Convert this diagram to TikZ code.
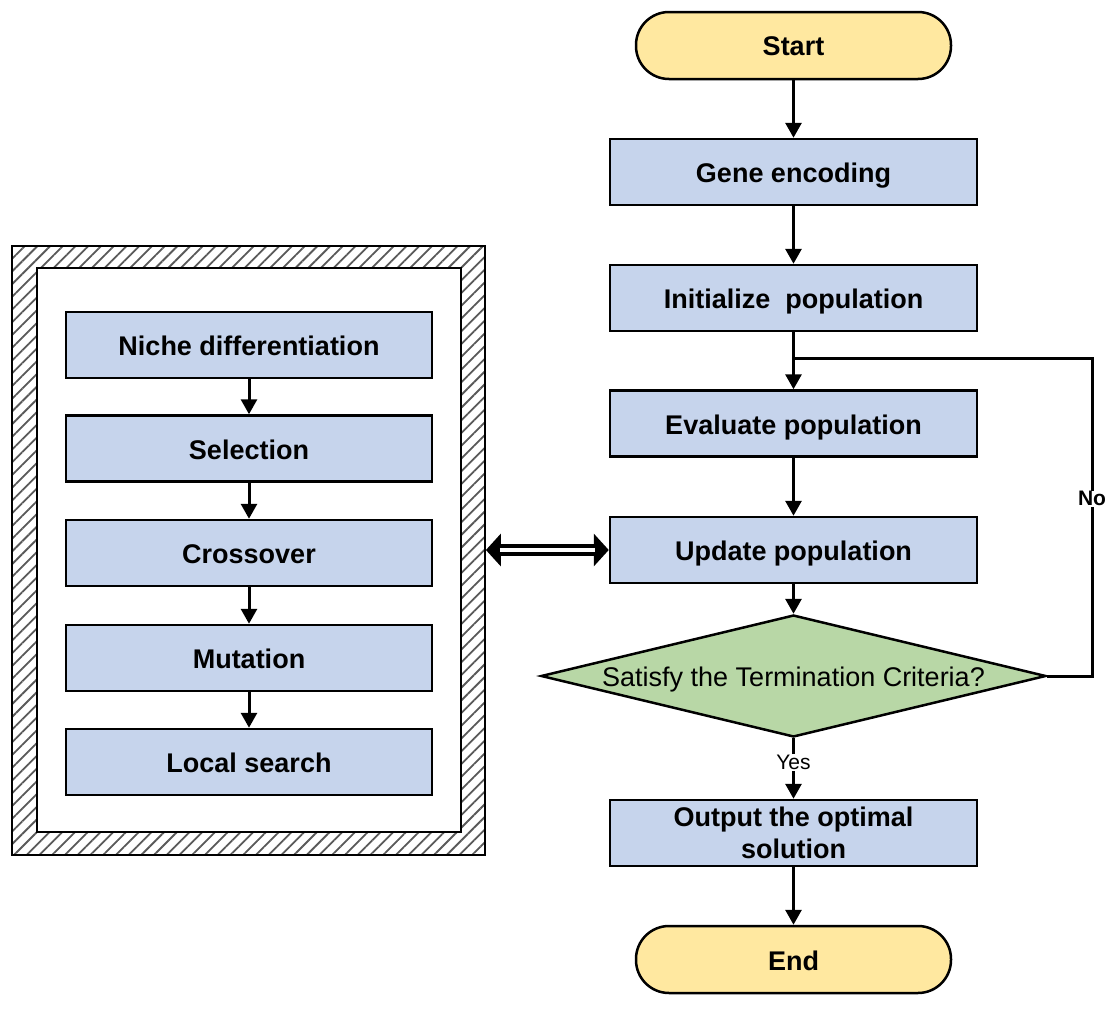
\documentclass[tikz,border=0pt]{standalone}
\usepackage{fontspec}
\setmainfont{Liberation Sans}
\usetikzlibrary{shapes.geometric,arrows.meta,patterns.meta}
\definecolor{boxblue}{RGB}{198,212,236}
\definecolor{termyellow}{RGB}{255,232,160}
\definecolor{decgreen}{RGB}{184,215,166}
\begin{document}
\begin{tikzpicture}[x=1pt,y=-1pt,
  procbase/.style={draw, line width=2.5pt, fill=boxblue, minimum width=367pt, minimum height=66pt,
    font=\fontsize{27}{32}\selectfont\bfseries, inner sep=0pt, align=center},
  oneline/.style={text height=26pt, text depth=5pt},
  proc/.style={procbase, oneline},
  term/.style={proc, fill=termyellow, rounded corners=33pt, minimum width=315pt, minimum height=67pt},
  lproc/.style={proc, minimum width=366pt},
  arr/.style={line width=3pt, -{Triangle[length=15pt,width=16pt]}},
  lbl/.style={fill=white, inner sep=1pt, font=\fontsize{21}{24}\selectfont\bfseries}
]
\useasboundingbox (0,0) rectangle (1112,1009);

% right flow
\node[term] (start) at (793.5,45.5) {Start};
\node[proc] (gene) at (793.5,172) {Gene encoding};
\node[proc] (init) at (793.5,298) {Initialize\ \ population};
\node[proc] (eval) at (793.5,423.5) {Evaluate population};
\node[proc] (upd) at (793.5,550) {Update population};
\node[draw, line width=2.5pt, fill=decgreen, shape=diamond, aspect=4.14, inner ysep=0pt, inner xsep=-8pt,
  minimum width=505pt, minimum height=122pt, font=\fontsize{27}{30}\selectfont, oneline] (dec) at (793.5,676)
  {Satisfy the Termination Criteria?};
\node[procbase] (out) at (793.5,833) {Output the optimal\\solution};
\node[term] (end) at (793.5,959.5) {End};

\draw[arr] (start) -- (gene);
\draw[arr] (gene) -- (init);
\draw[arr] (init) -- (eval);
\draw[arr] (eval) -- (upd);
\draw[arr] (upd) -- (dec.north);
\draw[arr] (dec.south) -- node[lbl, pos=0.4, font=\fontsize{21}{24}\selectfont] {Yes} (out);
\draw[arr] (out) -- (end);

\coordinate (lr) at (1092,676);
\coordinate (ur) at (1092,358);
\coordinate (merge) at (793.5,358);
\draw[line width=3pt] (dec.east) -- (lr) -- node[lbl, pos=0.557] {No} (ur) -- (merge);

% left panel
\node[draw, line width=1.5pt, pattern={Lines[angle=45,distance=9pt,line width=1.8pt]},
  pattern color=black!65, minimum width=473pt, minimum height=609pt, inner sep=0pt] (panel) at (248.5,550.5) {};
\node[draw, fill=white, line width=2pt, minimum width=424pt, minimum height=564pt, inner sep=0pt] (inner) at (249,550) {};

\node[lproc] (niche) at (249,345) {Niche differentiation};
\node[lproc] (sel) at (249,448.5) {Selection};
\node[lproc] (cross) at (249,553) {Crossover};
\node[lproc] (mut) at (249,658) {Mutation};
\node[lproc] (loc) at (249,762) {Local search};

\draw[arr] (niche) -- (sel);
\draw[arr] (sel) -- (cross);
\draw[arr] (cross) -- (mut);
\draw[arr] (mut) -- (loc);

% double arrow
\coordinate (pe) at (panel.east |- upd.west);
\draw[line width=12pt, {Triangle[length=15pt,width=32pt]}-{Triangle[length=15pt,width=32pt]}] (pe) -- (upd.west);
\draw[white, line width=4pt, shorten <=14pt, shorten >=14pt] (pe) -- (upd.west);
\end{tikzpicture}
\end{document}
